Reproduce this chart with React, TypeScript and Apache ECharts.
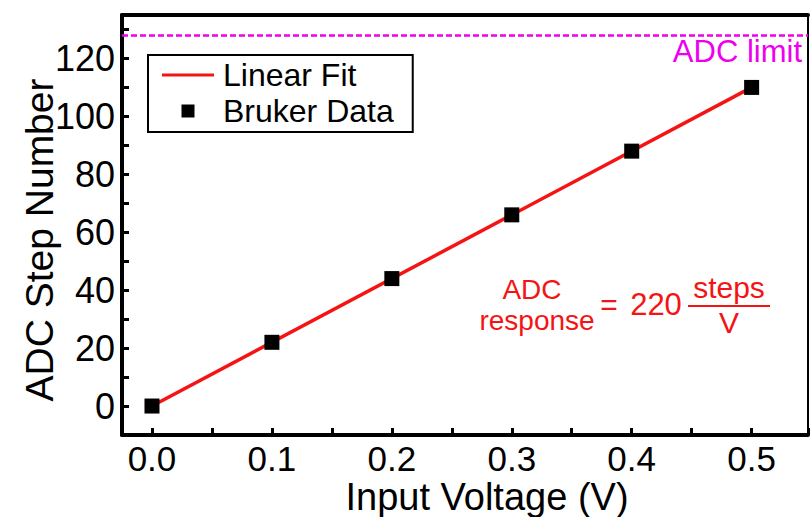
import React, { useEffect, useRef } from "react";
import * as echarts from "echarts";

const voltages = [0, 0.1, 0.2, 0.3, 0.4, 0.5];
const steps = [0, 22, 44, 66, 88, 110];
const fitVoltages = [0, 0.5];
const fitSteps = [0, 110];
const adcLimit = 128;
const xTickLabels = ["0.0", "0.1", "0.2", "0.3", "0.4", "0.5"];
const yTickLabels = ["0", "20", "40", "60", "80", "100", "120"];

const FONT = "'Liberation Sans', Arial, Helvetica, sans-serif";
const RED = "#f41414";
const MAGENTA = "#ee00ee";

export default function App() {
  const ref = useRef<HTMLDivElement>(null);
  useEffect(() => {
    if (!ref.current) return;
    const chart = echarts.init(ref.current, null, { renderer: "svg" });
    const xFmt = (v: number) => {
      const s = v.toFixed(1);
      return Math.abs(v * 10 - Math.round(v * 10)) < 1e-6 && xTickLabels.includes(s) ? s : "";
    };
    const yFmt = (v: number) => {
      const s = String(Math.round(v));
      return Math.abs(v - Math.round(v)) < 1e-6 && yTickLabels.includes(s) ? s : "";
    };
    chart.setOption({
      animation: false,
      backgroundColor: "#ffffff",
      textStyle: { fontFamily: FONT },
      grid: { left: 122, right: 3, top: 15, bottom: 82, containLabel: false },
      legend: {
        orient: "vertical",
        left: 148,
        top: 55,
        padding: [4, 19, 5, 14],
        itemGap: 4,
        itemWidth: 52,
        itemHeight: 13,
        selectedMode: false,
        backgroundColor: "#ffffff",
        borderColor: "#000000",
        borderWidth: 2,
        textStyle: { fontSize: 32, lineHeight: 32, color: "#000", fontFamily: FONT, padding: [0, 0, 0, 4] },
        data: [
          { name: "Linear Fit", icon: "path://M0,0L52,0L52,3L0,3Z", itemStyle: { color: RED } },
          { name: "Bruker Data", icon: "path://M0,0L10,0L10,10L0,10Z", itemStyle: { color: "#000", opacity: 1 } },
        ],
      },
      xAxis: [
        {
          type: "value",
          min: -0.025,
          max: 0.547,
          splitNumber: 11,
          minInterval: 0.05,
          maxInterval: 0.05,
          axisLine: { show: true, onZero: false, lineStyle: { color: "#000", width: 4 } },
          axisTick: { show: true, inside: true, length: 7, lineStyle: { color: "#000", width: 3 } },
          axisLabel: { formatter: xFmt, fontSize: 35, lineHeight: 30, color: "#000", margin: 8, fontFamily: FONT },
          splitLine: { show: false },
        },
        {
          type: "value",
          position: "top",
          min: -0.025,
          max: 0.547,
          axisLine: { show: true, onZero: false, lineStyle: { color: "#000", width: 4 } },
          axisTick: { show: false },
          axisLabel: { show: false },
          splitLine: { show: false },
        },
      ],
      yAxis: [
        {
          type: "value",
          min: -10,
          max: 135,
          splitNumber: 15,
          minInterval: 10,
          maxInterval: 10,
          axisLine: { show: true, onZero: false, lineStyle: { color: "#000", width: 4 } },
          axisTick: { show: true, inside: true, length: 7, lineStyle: { color: "#000", width: 3 } },
          axisLabel: { formatter: yFmt, fontSize: 36, color: "#000", margin: 7, fontFamily: FONT },
          splitLine: { show: false },
        },
        {
          type: "value",
          position: "right",
          min: -10,
          max: 135,
          axisLine: { show: true, onZero: false, lineStyle: { color: "#000", width: 2 } },
          axisTick: { show: false },
          axisLabel: { show: false },
          splitLine: { show: false },
        },
      ],
      series: [
        {
          name: "Linear Fit",
          type: "line",
          data: fitVoltages.map((v, i) => [v, fitSteps[i]]),
          symbol: "none",
          showSymbol: false,
          lineStyle: { color: RED, width: 3.5 },
          itemStyle: { color: RED },
          z: 2,
          markLine: {
            silent: true,
            symbol: "none",
            label: { show: false },
            lineStyle: { color: MAGENTA, width: 2.5, type: [6, 3] },
            data: [{ yAxis: adcLimit }],
          },
        },
        {
          name: "Bruker Data",
          type: "scatter",
          data: voltages.map((v, i) => [v, steps[i]]),
          symbol: "rect",
          symbolSize: 15,
          itemStyle: { color: "#000", opacity: 1 },
          z: 3,
        },
      ],
      graphic: [
        {
          type: "text",
          x: 39,
          y: 240,
          rotation: Math.PI / 2,
          style: { text: "ADC Step Number", fontSize: 39, fontFamily: FONT, fill: "#000", align: "center", verticalAlign: "middle" },
        },
        {
          type: "text",
          x: 487,
          y: 497,
          style: { text: "Input Voltage (V)", fontSize: 38, lineHeight: 30, fontFamily: FONT, fill: "#000", align: "center", verticalAlign: "middle" },
        },
        {
          type: "text",
          x: 802,
          y: 51,
          style: { text: "ADC limit", fontSize: 31, fontFamily: FONT, fill: MAGENTA, align: "right", verticalAlign: "middle" },
        },
        {
          type: "text",
          x: 532,
          y: 289,
          style: { text: "ADC", fontSize: 28, lineHeight: 28, fontFamily: FONT, fill: RED, align: "center", verticalAlign: "middle" },
        },
        {
          type: "text",
          x: 537,
          y: 320,
          style: { text: "response", fontSize: 28, lineHeight: 28, fontFamily: FONT, fill: RED, align: "center", verticalAlign: "middle" },
        },
        {
          type: "text",
          x: 609,
          y: 304,
          style: { text: "=", fontSize: 30, fontFamily: FONT, fill: RED, align: "center", verticalAlign: "middle" },
        },
        {
          type: "text",
          x: 656,
          y: 304,
          style: { text: "220", fontSize: 31, fontFamily: FONT, fill: RED, align: "center", verticalAlign: "middle" },
        },
        {
          type: "text",
          x: 729,
          y: 287,
          style: { text: "steps", fontSize: 30, fontFamily: FONT, fill: RED, align: "center", verticalAlign: "middle" },
        },
        {
          type: "line",
          shape: { x1: 688, y1: 306, x2: 770, y2: 306 },
          style: { stroke: RED, lineWidth: 2 },
        },
        {
          type: "text",
          x: 729,
          y: 322,
          style: { text: "V", fontSize: 30, fontFamily: FONT, fill: RED, align: "center", verticalAlign: "middle" },
        },
      ],
    });
    return () => chart.dispose();
  }, []);
  return <div ref={ref} style={{ width: 811, height: 517, position: "absolute", left: 0, top: 0 }} />;
}
